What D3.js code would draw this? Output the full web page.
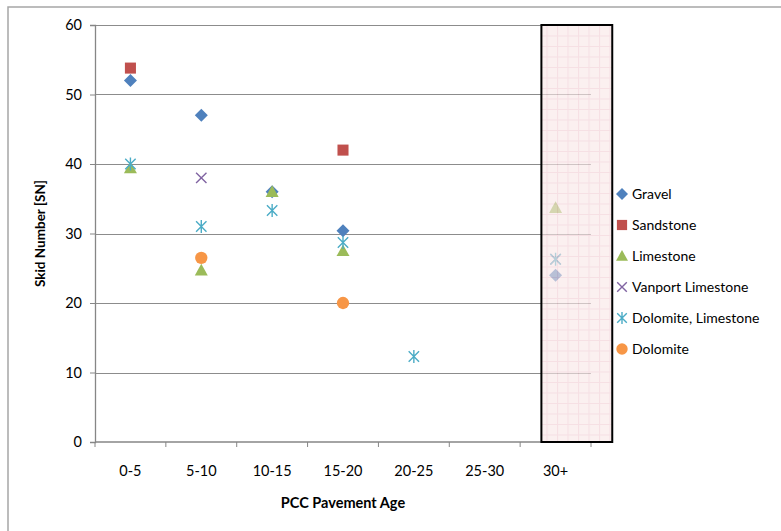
<!DOCTYPE html>
<html>
<head>
<meta charset="utf-8">
<script src="https://cdn.jsdelivr.net/npm/d3@7"></script>
<style>
  html, body { margin: 0; padding: 0; background: #fff; }
  svg { display: block; font-family: "Lato", "Open Sans", sans-serif; }
</style>
</head>
<body>
<svg id="chart" width="781" height="531"></svg>
<script>
// Pavement age bins (x categories)
const ageBins = ["0-5", "5-10", "10-15", "15-20", "20-25", "25-30", "30+"];
const yTicks = [0, 10, 20, 30, 40, 50, 60];

// Skid number per aggregate type, keyed by age bin
const gravel = [["0-5", 52], ["5-10", 47], ["10-15", 36], ["15-20", 30.4], ["30+", 24]];
const sandstone = [["0-5", 53.8], ["15-20", 42]];
const limestone = [["0-5", 39.4], ["5-10", 24.7], ["10-15", 36], ["15-20", 27.5], ["30+", 33.7]];
const vanportLimestone = [["5-10", 38], ["30+", 26.3]];
const dolomiteLimestone = [["0-5", 40], ["5-10", 31], ["10-15", 33.3], ["15-20", 28.7], ["20-25", 12.3], ["30+", 26.3]];
const dolomite = [["5-10", 26.5], ["15-20", 20]];

const seriesNames = ["Gravel", "Sandstone", "Limestone", "Vanport Limestone", "Dolomite, Limestone", "Dolomite"];
const seriesData = [gravel, sandstone, limestone, vanportLimestone, dolomiteLimestone, dolomite];
const seriesColors = ["#4F81BD", "#C0504D", "#9BBB59", "#8064A2", "#4BACC6", "#F79646"];
const seriesShapes = ["diamond", "square", "triangle", "x", "asterisk", "circle"];

// Highlighted bin
const highlightBin = "30+";

const svg = d3.select("#chart");
const margin = { left: 95, right: 190, top: 25, bottom: 89 };
const W = 781, H = 531;
const plotW = W - margin.left - margin.right;
const plotH = H - margin.top - margin.bottom;

// Chart frame
svg.append("rect")
  .attr("x", 8).attr("y", 7).attr("width", 800).attr("height", 600)
  .attr("fill", "#fff").attr("stroke", "#a6a6a6").attr("stroke-width", 1.5);

const g = svg.append("g").attr("transform", `translate(${margin.left},${margin.top})`);

const x = d3.scaleBand().domain(ageBins).range([0, plotW]).paddingInner(0).paddingOuter(0);
const y = d3.scaleLinear().domain([0, 60]).range([plotH, 0]);

// Horizontal gridlines
g.append("g")
  .selectAll("line")
  .data(yTicks.filter(d => d > 0))
  .join("line")
  .attr("x1", 0).attr("x2", plotW)
  .attr("y1", d => Math.round(y(d)) + 0.5).attr("y2", d => Math.round(y(d)) + 0.5)
  .attr("stroke", "#8c8c8c").attr("stroke-width", 1.2);

// Y axis
const yAxis = g.append("g")
  .call(d3.axisLeft(y).tickValues(yTicks).tickSize(5).tickPadding(8).tickFormat(d3.format("d")));
yAxis.select(".domain").attr("stroke", "#868686").attr("stroke-width", 1.3);
yAxis.selectAll(".tick line").attr("stroke", "#868686");
yAxis.selectAll(".tick text").attr("font-size", 14.5).attr("fill", "#000")
  .attr("font-family", "Lato, sans-serif");

// X axis with ticks at category boundaries
const xAxis = g.append("g").attr("transform", `translate(0,${plotH})`);
xAxis.append("line")
  .attr("x1", 0).attr("x2", plotW).attr("y1", 0).attr("y2", 0)
  .attr("stroke", "#868686").attr("stroke-width", 1.5);
const boundaries = ageBins.map(b => x(b)).concat([plotW]);
xAxis.selectAll("line.tk")
  .data(boundaries)
  .join("line").attr("class", "tk")
  .attr("x1", d => d).attr("x2", d => d).attr("y1", 0).attr("y2", 5)
  .attr("stroke", "#868686");
xAxis.selectAll("text.lbl")
  .data(ageBins)
  .join("text").attr("class", "lbl")
  .attr("x", d => x(d) + x.bandwidth() / 2)
  .attr("y", 34)
  .attr("text-anchor", "middle")
  .attr("font-size", 14.5).attr("fill", "#000")
  .text(d => d);

// Marker symbols
function drawMarker(sel, shape, color, s) {
  if (shape === "diamond") {
    sel.append("path").attr("d", `M0,${-s}L${s},0L0,${s}L${-s},0Z`).attr("fill", color);
  } else if (shape === "square") {
    sel.append("rect").attr("x", -s * 0.85).attr("y", -s * 0.85)
      .attr("width", s * 1.7).attr("height", s * 1.7).attr("fill", color);
  } else if (shape === "triangle") {
    sel.append("path").attr("d", `M0,${-s}L${s},${s * 0.8}L${-s},${s * 0.8}Z`).attr("fill", color);
  } else if (shape === "circle") {
    sel.append("circle").attr("r", s * 0.95).attr("fill", color);
  } else if (shape === "x") {
    const k = s * 0.8;
    sel.append("path").attr("d", `M${-k},${-k}L${k},${k}M${k},${-k}L${-k},${k}`)
      .attr("stroke", color).attr("stroke-width", 1.4).attr("fill", "none");
  } else if (shape === "asterisk") {
    const k = s * 0.8;
    sel.append("path").attr("d", `M${-k},${-k}L${k},${k}M${k},${-k}L${-k},${k}M0,${-s}L0,${s}`)
      .attr("stroke", color).attr("stroke-width", 1.4).attr("fill", "none");
  }
}

// Data points
seriesData.forEach((data, i) => {
  const sg = g.append("g");
  data.forEach(([bin, val]) => {
    const m = sg.append("g")
      .attr("transform", `translate(${x(bin) + x.bandwidth() / 2},${y(val)})`);
    drawMarker(m, seriesShapes[i], seriesColors[i], 6.5);
  });
});

// Highlight box over the 30+ bin (translucent, grid-patterned)
const defs = svg.append("defs");
const pat = defs.append("pattern")
  .attr("id", "pinkGrid").attr("patternUnits", "userSpaceOnUse")
  .attr("width", 10.5).attr("height", 10.5);
pat.append("rect").attr("width", 10.5).attr("height", 10.5).attr("fill", "#f8e6e6");
pat.append("path").attr("d", "M0,0.5H10.5M0.5,0V10.5")
  .attr("stroke", "#f0ccd3").attr("stroke-width", 1);

const hx0 = x(highlightBin) + x.bandwidth() * 0.3;
g.append("rect")
  .attr("x", hx0).attr("y", 0)
  .attr("width", x.bandwidth()).attr("height", plotH)
  .attr("fill", "url(#pinkGrid)").attr("fill-opacity", 0.62)
  .attr("stroke", "#000").attr("stroke-width", 2);

// Axis titles
svg.append("text")
  .attr("x", margin.left + plotW / 2).attr("y", 508)
  .attr("text-anchor", "middle").attr("font-size", 14.5).attr("font-weight", "bold")
  .text("PCC Pavement Age");
svg.append("text")
  .attr("transform", `translate(45,${margin.top + plotH / 2}) rotate(-90)`)
  .attr("text-anchor", "middle").attr("font-size", 13.5).attr("font-weight", "bold")
  .text("Skid Number [SN]");

// Legend
const legend = svg.append("g").attr("transform", "translate(622,194)");
seriesNames.forEach((name, i) => {
  const row = legend.append("g").attr("transform", `translate(0,${i * 31})`);
  drawMarker(row.append("g"), seriesShapes[i], seriesColors[i], 6);
  row.append("text").attr("x", 10).attr("y", 5).attr("font-size", 14).attr("fill", "#000").text(name);
});
</script>
</body>
</html>
